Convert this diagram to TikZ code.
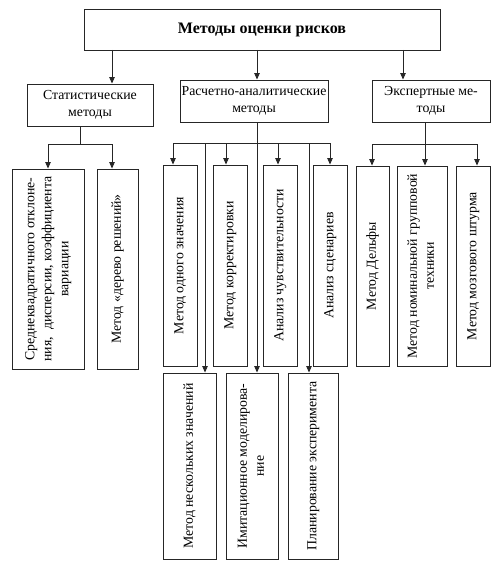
\documentclass[tikz,border=0pt]{standalone}
\usepackage{fontspec}
\setmainfont{Liberation Serif}
\usetikzlibrary{arrows.meta}
\tikzset{
  box/.style={draw=black!85, line width=0.9pt, inner sep=1pt, align=center,
    font=\fontsize{13.8}{17}\selectfont},
  arr/.style={draw=black!85, line width=0.9pt, -{Triangle[length=6.5pt,width=5.5pt]}},
  bus/.style={draw=black!85, line width=0.9pt},
}
\newcommand{\vtext}[1]{\rotatebox{90}{\begin{tabular}{@{}c@{}}#1\end{tabular}}}

\begin{document}
\begin{tikzpicture}[x=1pt,y=-1pt]
  \useasboundingbox (0,0) rectangle (498,575);
  % Top box
  \node[box, minimum width=356pt, minimum height=41pt,
    font=\bfseries\fontsize{16}{18}\selectfont] (root) at (262,30) {Методы оценки рисков};
  % Groups of methods
  \node[box, minimum width=126pt, minimum height=42pt] (stat) at (90,105) {Статистические\\методы};
  \node[box, minimum width=148pt, minimum height=42pt] (calc) at (254,101) {Расчетно-аналитические\\методы};
  \node[box, minimum width=118pt, minimum height=42pt] (expert) at (431,101) {Экспертные ме-\\тоды};
  \foreach \n/\x in {stat/112, calc/257, expert/403} {
    \coordinate (r\n) at (\x,50);
    \draw[arr] (r\n) -- (r\n |- \n.north);
  }
  % Statistical methods
  \node[box, minimum width=72pt, minimum height=200pt] (sko) at (48,269)
    {\vtext{Среднеквадратичного отклоне-\\ния,\ \ дисперсии, коэффициента\\вариации}};
  \node[box, minimum width=41pt, minimum height=200pt] (tree) at (117.5,269)
    {\vtext{Метод «дерево решений»}};
  \coordinate (s0) at (80,144);
  \draw[bus] (s0 |- stat.south) -- (s0);
  \foreach \n/\x in {sko/48, tree/112} {
    \coordinate (s\n) at (\x,144);
    \draw[bus] (s0) -- (s\n);
    \draw[arr] (s\n) -- (s\n |- \n.north);
  }
  % Calculation and analytical methods
  \node[box, minimum width=34pt, minimum height=201pt] (one) at (180,265.5) {\vtext{Метод одного значения}};
  \node[box, minimum width=34pt, minimum height=201pt] (corr) at (230,265.5) {\vtext{Метод корректировки}};
  \node[box, minimum width=34pt, minimum height=201pt] (sens) at (280,265.5) {\vtext{Анализ чувствительности}};
  \node[box, minimum width=34pt, minimum height=201pt] (scen) at (330,265.5) {\vtext{Анализ сценариев}};
  \node[box, minimum width=53pt, minimum height=186pt] (nesk) at (189.5,466) {\vtext{Метод нескольких значений}};
  \node[box, minimum width=52pt, minimum height=186pt] (imit) at (252,466) {\vtext{Имитационное моделирова-\\ние}};
  \node[box, minimum width=50pt, minimum height=186pt] (plan) at (313,466) {\vtext{Планирование эксперимента}};
  \coordinate (cL) at (173,143);
  \coordinate (cR) at (330,143);
  \draw[bus] (cL) -- (cR);
  \foreach \n/\x in {one/173, corr/226, sens/278, scen/330} {
    \coordinate (c\n) at (\x,143);
    \draw[arr] (c\n) -- (c\n |- \n.north);
  }
  \foreach \n/\x in {nesk/205, plan/309} {
    \coordinate (c\n) at (\x,143);
    \draw[arr] (c\n) -- (c\n |- \n.north);
  }
  \coordinate (cimit) at (257,143);
  \draw[arr] (cimit |- calc.south) -- (cimit |- imit.north);
  % Expert methods
  \node[box, minimum width=33pt, minimum height=200pt] (delphi) at (372.5,266) {\vtext{Метод Дельфы}};
  \node[box, minimum width=50pt, minimum height=200pt] (ngt) at (422,266)
    {\vtext{Метод номинальной групповой\\техники}};
  \node[box, minimum width=34pt, minimum height=200pt] (brain) at (473,266) {\vtext{Метод мозгового штурма}};
  \coordinate (e0) at (425,144);
  \draw[bus] (e0 |- expert.south) -- (e0);
  \coordinate (eL) at (372,144);
  \coordinate (eR) at (477,144);
  \draw[bus] (eL) -- (eR);
  \foreach \n/\x in {delphi/372, ngt/425, brain/477} {
    \coordinate (e\n) at (\x,144);
    \draw[arr] (e\n) -- (e\n |- \n.north);
  }
\end{tikzpicture}
\end{document}
